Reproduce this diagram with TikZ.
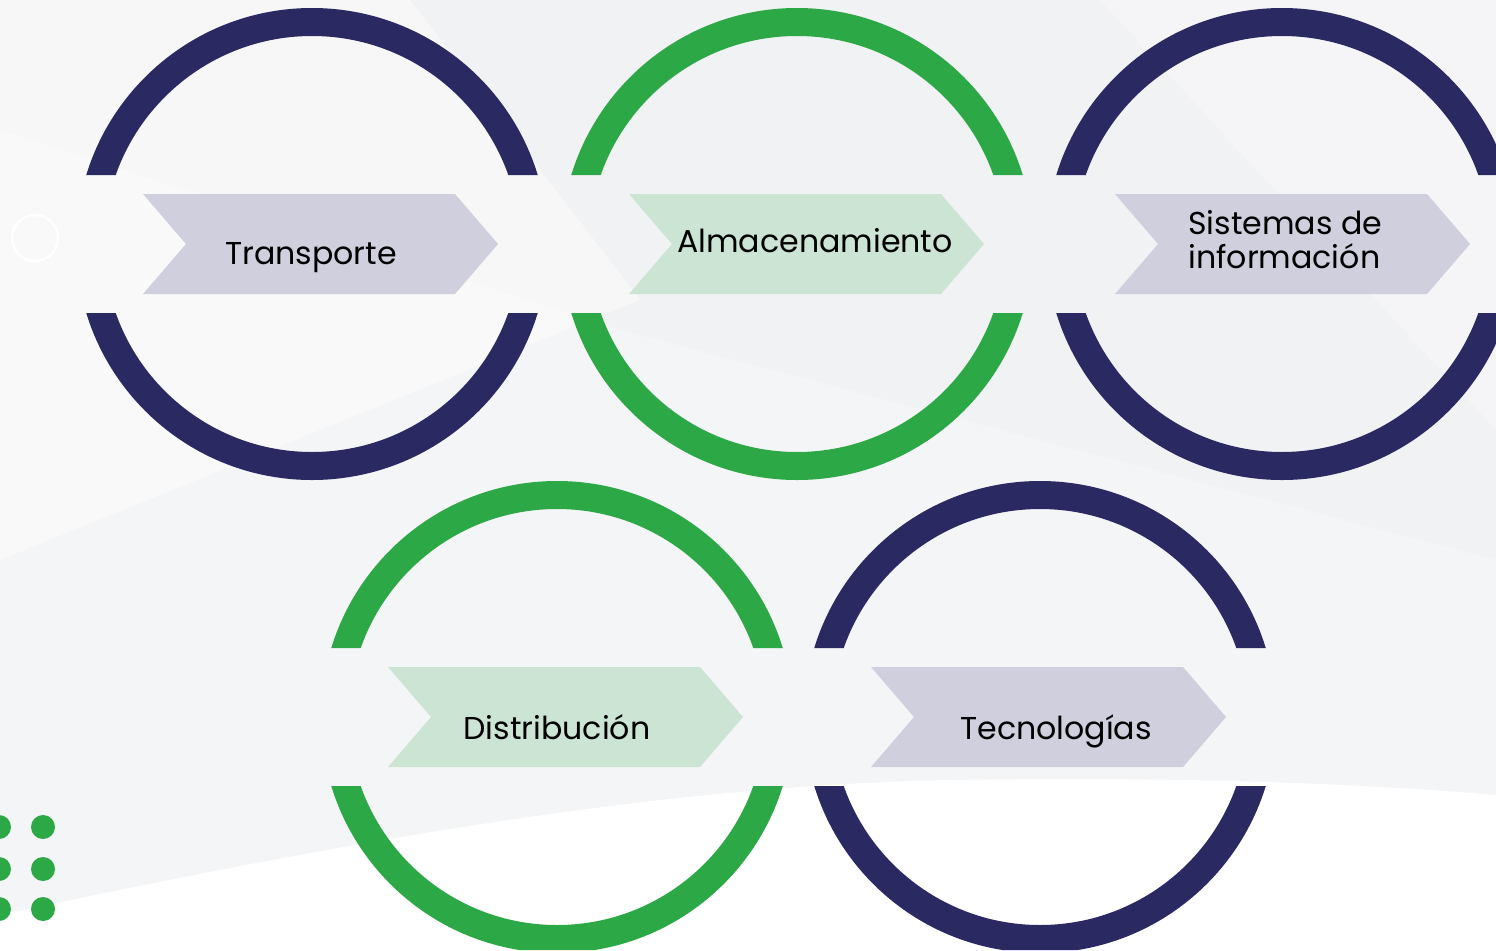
\documentclass[tikz,border=0pt]{standalone}
\usepackage{fontspec}
\setmainfont{Poppins}
\usepackage{xcolor}
\usetikzlibrary{positioning}
\definecolor{ringnavy}{RGB}{43, 41, 98}
\definecolor{ringgreen}{RGB}{45, 168, 70}
\definecolor{chevgrey}{RGB}{207, 207, 221}
\definecolor{chevgreen}{RGB}{204, 228, 212}
\definecolor{bggrey}{RGB}{241, 242, 244}

\begin{document}
\begin{tikzpicture}[
        x=0.02cm, y=-0.02cm,
        label/.style={font=\fontsize{18}{19.4}\selectfont, text=black, inner sep=0pt, anchor=base},
        dot/.style={fill=ringgreen},
        % chevron: 354 wide, 100 high, notch and tip 43 deep
        chevron/.style={fill=#1},
        ring/.style={fill=#1, even odd rule}
    ]
        % Background
        \fill[bggrey] (0,0) rectangle (1496,950);
        \fill[white, opacity=0.45] (0,0) -- (410,0) -- (640,300) -- (0,560) -- cycle;
        \fill[white, opacity=0.25] (0,130) -- (620,330) -- (1496,560) -- (1496,950) -- (0,950) -- cycle;
        \fill[white, opacity=0.3] (1100,0) -- (1496,0) -- (1496,430) -- cycle;
        \fill[white] (0,915) .. controls (420,825) and (700,785) .. (950,780) .. controls (1200,776) and (1380,785) .. (1496,795) -- (1496,950) -- (0,950) -- cycle;
        \useasboundingbox (0,0) rectangle (1496,950);

        % Decoration
        \draw[white, line width=1.5pt] (35,238) circle (23);
        \foreach \dy in {827, 869, 909} {
            \fill[dot] (-1,\dy) circle (12);
            \fill[dot] (43,\dy) circle (12);
        }

        % Rings (cut flat above and below the chevrons)
        \begin{scope}
            \clip (0,0) rectangle (1496,175) (0,313) rectangle (1496,480);
            \fill[ring=ringnavy] (312,244) circle (236) (312,244) circle (208);
            \fill[ring=ringgreen] (797,244) circle (236) (797,244) circle (208);
            \fill[ring=ringnavy] (1282,244) circle (236) (1282,244) circle (208);
        \end{scope}
        \begin{scope}
            \clip (0,480) rectangle (1496,648) (0,786) rectangle (1496,950);
            \fill[ring=ringgreen] (557,717) circle (236) (557,717) circle (208);
            \fill[ring=ringnavy] (1040,717) circle (236) (1040,717) circle (208);
        \end{scope}

        % Chevrons
        \fill[chevron=chevgrey] (143,194) -- (455,194) -- (498,244) -- (455,294) -- (143,294) -- (186,244) -- cycle;
        \fill[chevron=chevgreen] (629,194) -- (941,194) -- (984,244) -- (941,294) -- (629,294) -- (672,244) -- cycle;
        \fill[chevron=chevgrey] (1115,194) -- (1427,194) -- (1470,244) -- (1427,294) -- (1115,294) -- (1158,244) -- cycle;
        \fill[chevron=chevgreen] (388,667) -- (700,667) -- (743,717) -- (700,767) -- (388,767) -- (431,717) -- cycle;
        \fill[chevron=chevgrey] (871,667) -- (1183,667) -- (1226,717) -- (1183,767) -- (871,767) -- (914,717) -- cycle;

        % Labels
        \node[label] (transporte) at (311,264) {Transporte};
        \node[label] (almacen) at (815,252) {Almacenamiento};
        \node[label, align=left, anchor=north west] (sistemas) at (1188,210) {Sistemas de\\información};
        \node[label] (distrib) at (557,739) {Distribución};
        \node[label] (tecno) at (1056,739) {Tecnologías};
    \end{tikzpicture}
\end{document}
